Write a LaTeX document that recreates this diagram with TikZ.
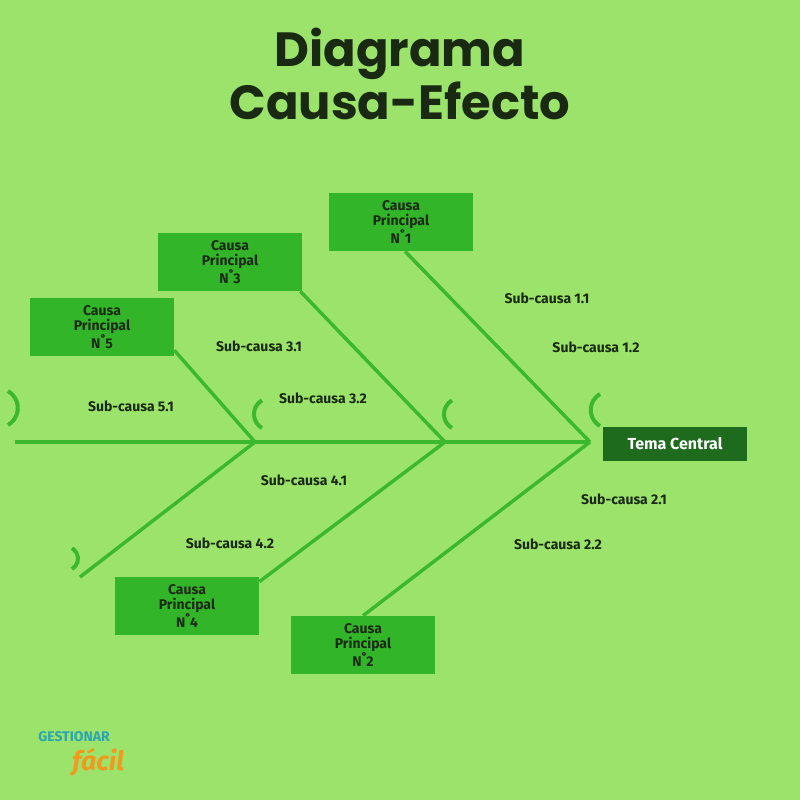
\documentclass[tikz,border=0pt]{standalone}
\usepackage{fontspec}
\setmainfont{Fira Sans}
\newfontfamily\titlefont{Poppins}
\definecolor{bg}{HTML}{9BE36A}
\definecolor{bone}{HTML}{3CB82E}
\definecolor{boxg}{HTML}{33B52A}
\definecolor{dk}{HTML}{1E6B1E}
\definecolor{txt}{HTML}{1A2A12}
\definecolor{teal}{HTML}{2BA6B0}
\definecolor{orng}{HTML}{F39A1E}
\begin{document}
\begin{tikzpicture}[x=0.75pt,y=-0.75pt,
  causebox/.style={fill=boxg,minimum width=108pt,minimum height=43.5pt,inner sep=0pt,align=center,font=\fontsize{10.5}{11}\selectfont\bfseries,text=txt},
  sub/.style={font=\fontsize{10.5}{12}\selectfont\bfseries,text=txt},
  bonel/.style={draw=bone,line width=2.6pt},
  arcl/.style={draw=bone,line width=3pt}]
\fill[bg] (0,0) rectangle (800,800);
\useasboundingbox (0,0) rectangle (800,800);
\node[font=\titlefont\fontsize{36}{38}\selectfont\bfseries,text=txt,align=center] (title) at (400,74) {Diagrama\\Causa-Efecto};
% spine
\coordinate (s0) at (15,442);
\coordinate (j1) at (255,442);
\coordinate (j2) at (445,442);
\coordinate (j3) at (590,442);
\draw[bonel,line width=3.5pt] (s0) -- (j3);
% arcs
\draw[arcl] (8,425) arc[start angle=60,end angle=-60,radius=19.6];
\draw[arcl] (262,428) arc[start angle=120,end angle=240,radius=16];
\draw[arcl] (452,428) arc[start angle=120,end angle=240,radius=16];
\draw[arcl] (600,426) arc[start angle=120,end angle=240,radius=18.5];
\draw[arcl] (72,569) arc[start angle=60,end angle=-60,radius=12];
% boxes
\node[causebox] (c1) at (401,222) {Causa\\Principal\\N˚1};
\node[causebox] (c3) at (230,262) {Causa\\Principal\\N˚3};
\node[causebox] (c5) at (102,327) {Causa\\Principal\\N˚5};
\node[causebox] (c4) at (187,606) {Causa\\Principal\\N˚4};
\node[causebox] (c2) at (363,645) {Causa\\Principal\\N˚2};
\node[fill=dk,text=white,minimum width=108pt,minimum height=25pt,font=\fontsize{12}{13}\selectfont\bfseries] (tc) at (675,444) {Tema Central};
% bones
\coordinate (e5) at (80,577);
\draw[bonel] (c1.south) ++(4,0) -- (j3);
\draw[bonel] (c3.south east) ++(-2,0) -- (j2);
\draw[bonel] (c5.south east) ++(0,-6) -- (j1);
\draw[bonel] (c2.north) -- (j3);
\draw[bonel] (c4.north east) ++(0,5) -- (j2);
\draw[bonel] (e5) -- (j1);
% labels
\node[sub] (l11) at (547,298) {Sub-causa 1.1};
\node[sub] (l12) at (596,347) {Sub-causa 1.2};
\node[sub] (l31) at (259,346) {Sub-causa 3.1};
\node[sub] (l32) at (323,398) {Sub-causa 3.2};
\node[sub] (l51) at (131,406) {Sub-causa 5.1};
\node[sub] (l41) at (304,480) {Sub-causa 4.1};
\node[sub] (l42) at (230,543) {Sub-causa 4.2};
\node[sub] (l21) at (624,499) {Sub-causa 2.1};
\node[sub] (l22) at (558,544) {Sub-causa 2.2};
% logo
\node[font=\fontsize{10.5}{11}\selectfont\bfseries,text=teal] (lg1) at (74,737) {GESTIONAR};
\node[font=\fontsize{20}{20}\selectfont\bfseries\itshape,text=orng] (lg2) at (98,762) {fácil};
\end{tikzpicture}
\end{document}
